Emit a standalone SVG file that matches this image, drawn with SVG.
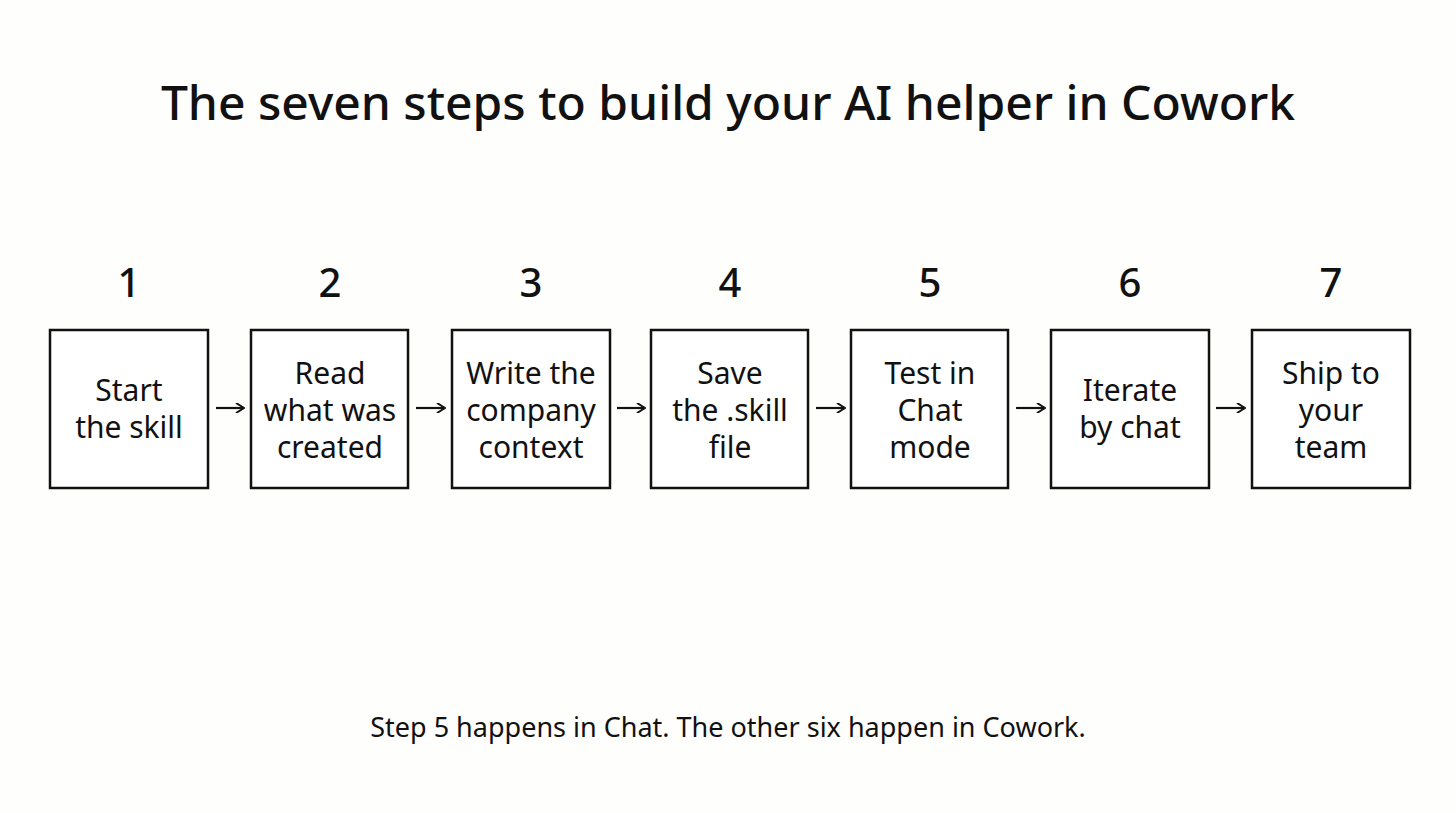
<svg xmlns="http://www.w3.org/2000/svg" width="1456" height="813" viewBox="0 0 1456 813">
<defs>
<style>
text{font-family:"Noto Sans","Liberation Sans",sans-serif;fill:#111;text-anchor:middle}
.t{font-size:48px;font-weight:500}
.n{font-size:40px;font-weight:500}
.b{font-size:30px}
.f{font-size:27px}
rect{fill:#fff;stroke:#111;stroke-width:2.5}
.c line{stroke:#111;stroke-width:2.2}
</style>
<marker id="a" viewBox="0 0 10 10" refX="9" refY="5" markerWidth="10" markerHeight="10" markerUnits="userSpaceOnUse" orient="auto"><path d="M1 0L9 5L1 10" fill="none" stroke="#111" stroke-width="2"/></marker>
</defs>
<rect x="0" y="0" width="1456" height="813" style="fill:#fefefd;stroke:none"/>
<text class="t" x="728" y="120">The seven steps to build your AI helper in Cowork</text>
<g id="s1"><text class="n" x="129" y="297">1</text><rect x="50" y="330" width="158" height="158"/><text class="b" x="129" y="401">Start</text><text class="b" x="129" y="438">the skill</text></g>
<g id="s2"><text class="n" x="330" y="297">2</text><rect x="251" y="330" width="157" height="158"/><text class="b" x="330" y="384">Read</text><text class="b" x="330" y="421">what was</text><text class="b" x="330" y="458">created</text></g>
<g id="s3"><text class="n" x="531" y="297">3</text><rect x="452" y="330" width="158" height="158"/><text class="b" x="531" y="384">Write the</text><text class="b" x="531" y="421">company</text><text class="b" x="531" y="458">context</text></g>
<g id="s4"><text class="n" x="730" y="297">4</text><rect x="651" y="330" width="157" height="158"/><text class="b" x="730" y="384">Save</text><text class="b" x="730" y="421">the .skill</text><text class="b" x="730" y="458">file</text></g>
<g id="s5"><text class="n" x="930" y="297">5</text><rect x="851" y="330" width="157" height="158"/><text class="b" x="930" y="384">Test in</text><text class="b" x="930" y="421">Chat</text><text class="b" x="930" y="458">mode</text></g>
<g id="s6"><text class="n" x="1130" y="297">6</text><rect x="1051" y="330" width="158" height="158"/><text class="b" x="1130" y="401">Iterate</text><text class="b" x="1130" y="438">by chat</text></g>
<g id="s7"><text class="n" x="1331" y="297">7</text><rect x="1252" y="330" width="158" height="158"/><text class="b" x="1331" y="384">Ship to</text><text class="b" x="1331" y="421">your</text><text class="b" x="1331" y="458">team</text></g>
<g class="c">
<line x1="216" y1="408" x2="244" y2="408" marker-end="url(#a)"/>
<line x1="416" y1="408" x2="445" y2="408" marker-end="url(#a)"/>
<line x1="617" y1="408" x2="645" y2="408" marker-end="url(#a)"/>
<line x1="816" y1="408" x2="845" y2="408" marker-end="url(#a)"/>
<line x1="1016" y1="408" x2="1045" y2="408" marker-end="url(#a)"/>
<line x1="1216" y1="408" x2="1245" y2="408" marker-end="url(#a)"/>
</g>
<text class="f" x="728" y="737">Step 5 happens in Chat. The other six happen in Cowork.</text>
</svg>
